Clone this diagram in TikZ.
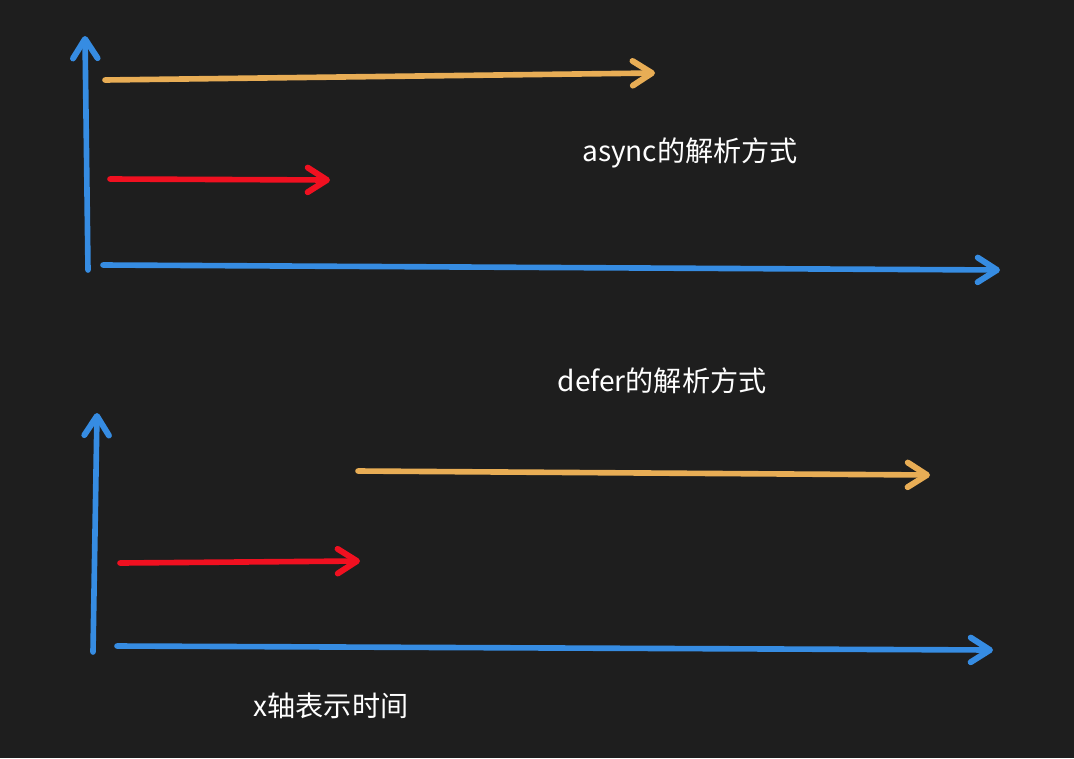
\documentclass[tikz,border=0pt]{standalone}
\usepackage{fontspec}
\setmainfont{Noto Sans CJK SC}
\definecolor{bgdark}{RGB}{30,30,30}
\definecolor{axisblue}{RGB}{54,140,226}
\definecolor{jsorange}{RGB}{232,173,85}
\definecolor{htmlred}{RGB}{240,16,32}
\usetikzlibrary{arrows.meta}

\begin{document}
\begin{tikzpicture}[x=0.02cm,y=-0.02cm,
    stroke/.style={line width=3.2pt,line cap=round,
      -{Straight Barb[length=11pt,width=14pt,line width=3.4pt,round]}},
    label/.style={text=white,font=\fontsize{16pt}{19pt}\selectfont,inner sep=0pt}]
  \fill[bgdark] (0,0) rectangle (1074,758);
  \useasboundingbox (0,0) rectangle (1074,758);

  %% Top: async
  \coordinate (a-y0) at (88,270);
  \coordinate (a-y1) at (85,36);
  \coordinate (a-x0) at (103,265);
  \coordinate (a-x1) at (1000,270);
  \coordinate (a-js0) at (105,80);
  \coordinate (a-js1) at (655,73);
  \coordinate (a-html0) at (110,179);
  \coordinate (a-html1) at (330,180);
  \draw[stroke,axisblue] (a-y0) -- (a-y1);
  \draw[stroke,axisblue] (a-x0) -- (a-x1);
  \draw[stroke,jsorange] (a-js0) -- (a-js1);
  \draw[stroke,htmlred] (a-html0) -- (a-html1);
  \node[label] (asynclabel) at (690,153) {async的解析方式};

  %% Bottom: defer
  \coordinate (d-y0) at (93,652);
  \coordinate (d-y1) at (97,413);
  \coordinate (d-x0) at (117,646);
  \coordinate (d-x1) at (993,650);
  \coordinate (d-js0) at (358,471);
  \coordinate (d-js1) at (930,475);
  \coordinate (d-html0) at (120,563);
  \coordinate (d-html1) at (360,561);
  \draw[stroke,axisblue] (d-y0) -- (d-y1);
  \draw[stroke,axisblue] (d-x0) -- (d-x1);
  \draw[stroke,jsorange] (d-js0) -- (d-js1);
  \draw[stroke,htmlred] (d-html0) -- (d-html1);
  \node[label] (deferlabel) at (662,381) {defer的解析方式};
  \node[label] (xlabel) at (331,706) {x轴表示时间};
\end{tikzpicture}
\end{document}
